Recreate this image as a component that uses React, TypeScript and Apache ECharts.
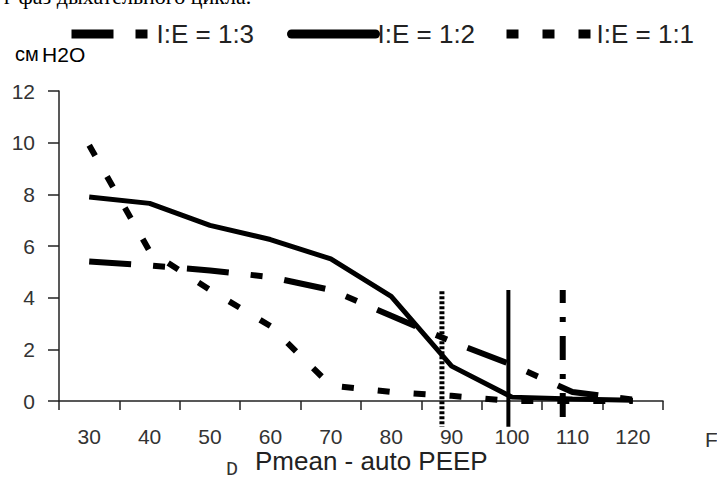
import React, { useEffect, useRef } from "react";
import * as echarts from "echarts";

const categories = ["30", "40", "50", "60", "70", "80", "90", "100", "110", "120"];
const ie13 = [5.4, 5.25, 5.05, 4.8, 4.3, 3.3, 2.3, 1.4, 0.35, 0.05];
const ie12 = [7.9, 7.65, 6.8, 6.25, 5.5, 4.05, 1.35, 0.15, 0.08, 0.03];
const ie11 = [9.9, 5.8, 4.3, 2.9, 0.6, 0.35, 0.2, 0.0, 0.0, 0.0];
const seriesNames = ["I:E = 1:3", "I:E = 1:2", "I:E = 1:1"];
const markerX = [88.4, 99.4, 108.4];
const markerTop = [4.25, 4.3, 4.3];
const markerBottom = [-1.0, -1.0, -0.75];
const yMin = 0;
const yMax = 12;
const yStep = 2;

const FONT = "Liberation Sans, Arial, sans-serif";

export default function App() {
  const ref = useRef<HTMLDivElement>(null);
  useEffect(() => {
    if (!ref.current) return;
    const chart = echarts.init(ref.current, undefined, { renderer: "svg" });

    const legendBase = {
      top: 21,
      itemHeight: 14,
      padding: 0,
      selectedMode: false,
      textStyle: { fontSize: 26, color: "#222", fontFamily: FONT, padding: [0, 0, 0, -3] },
      itemStyle: { color: "rgba(0,0,0,0)", borderWidth: 0, opacity: 0 },
      lineStyle: { width: 9 },
    };

    const markerStyles = [
      { type: [3, 2], width: 5, color: "#000" },
      { type: "solid", width: 4, color: "#000" },
      { type: [24, 14, 5, 14], dashOffset: 11, width: 6, color: "#000" },
    ];

    const markerSeries = markerX.map((x, i) => ({
      type: "line",
      name: "marker" + i,
      xAxisIndex: 1,
      yAxisIndex: 0,
      data: [
        [x, markerTop[i]],
        [x, markerBottom[i]],
      ],
      symbol: "none",
      clip: false,
      silent: true,
      lineStyle: markerStyles[i],
      z: 3,
    }));

    chart.setOption({
      animation: false,
      backgroundColor: "#fff",
      grid: { left: 59, right: 54, top: 91, bottom: 78, containLabel: false },
      legend: [
        { ...legendBase, left: 67, itemWidth: 83, data: [seriesNames[0]] },
        { ...legendBase, left: 287, itemWidth: 84, data: [seriesNames[1]], lineStyle: { width: 9, cap: "round" } },
        { ...legendBase, left: 502, itemWidth: 88, data: [seriesNames[2]] },
      ],
      xAxis: [
        {
          type: "category",
          data: categories,
          boundaryGap: true,
          axisLine: { lineStyle: { color: "#222", width: 1.5 } },
          axisTick: { show: true, length: 9, inside: false, lineStyle: { color: "#222", width: 1.5 } },
          axisLabel: { fontSize: 21, color: "#333", fontFamily: FONT, margin: 25 },
          splitLine: { show: false },
        },
        {
          type: "value",
          min: 25,
          max: 125,
          show: false,
        },
      ],
      yAxis: {
        type: "value",
        min: yMin,
        max: yMax,
        interval: yStep,
        axisLine: { show: true, lineStyle: { color: "#222", width: 1.5 } },
        axisTick: { show: true, length: 11, lineStyle: { color: "#222", width: 1.5 } },
        axisLabel: { fontSize: 21, color: "#333", fontFamily: FONT, margin: 24 },
        splitLine: { show: false },
      },
      series: [
        {
          type: "line",
          name: seriesNames[0],
          data: ie13,
          symbol: "none",
          lineStyle: { color: "#000", width: 6, type: [42, 22, 12, 22] },
          itemStyle: { color: "#000" },
        },
        {
          type: "line",
          name: seriesNames[1],
          data: ie12,
          symbol: "none",
          lineStyle: { color: "#000", width: 5, type: "solid" },
          itemStyle: { color: "#000" },
        },
        {
          type: "line",
          name: seriesNames[2],
          data: ie11,
          symbol: "none",
          lineStyle: { color: "#000", width: 6, type: [12, 24] },
          itemStyle: { color: "#000" },
        },
        ...markerSeries,
      ],
      graphic: [
        {
          type: "text",
          left: 4,
          top: -15,
          style: { text: "г фаз дыхательного цикла.", font: "22px Liberation Serif, Times New Roman, serif", fill: "#000" },
        },
        {
          type: "text",
          x: 15,
          y: 54,
          style: {
            text: "{a|см} {b|H2O}",
            verticalAlign: "middle",
            rich: {
              a: { fontSize: 20, fontFamily: FONT, color: "#333" },
              b: { fontSize: 21, fontFamily: FONT, color: "#333" },
            },
          },
        },
        {
          type: "text",
          x: 705,
          y: 439,
          style: { text: "F", fontSize: 21, fontFamily: FONT, fill: "#333", verticalAlign: "middle" },
        },
        {
          type: "text",
          x: 226,
          y: 469,
          style: { text: "D", fontSize: 20, fontFamily: "Liberation Mono, Courier New, monospace", fill: "#333", verticalAlign: "middle" },
        },
        {
          type: "text",
          x: 255,
          y: 461,
          style: { text: "Pmean - auto PEEP", fontSize: 26, fontFamily: FONT, fill: "#222", verticalAlign: "middle" },
        },
      ],
    });
    return () => chart.dispose();
  }, []);
  return <div ref={ref} style={{ position: "absolute", left: 0, top: 0, width: 717, height: 479 }} />;
}
